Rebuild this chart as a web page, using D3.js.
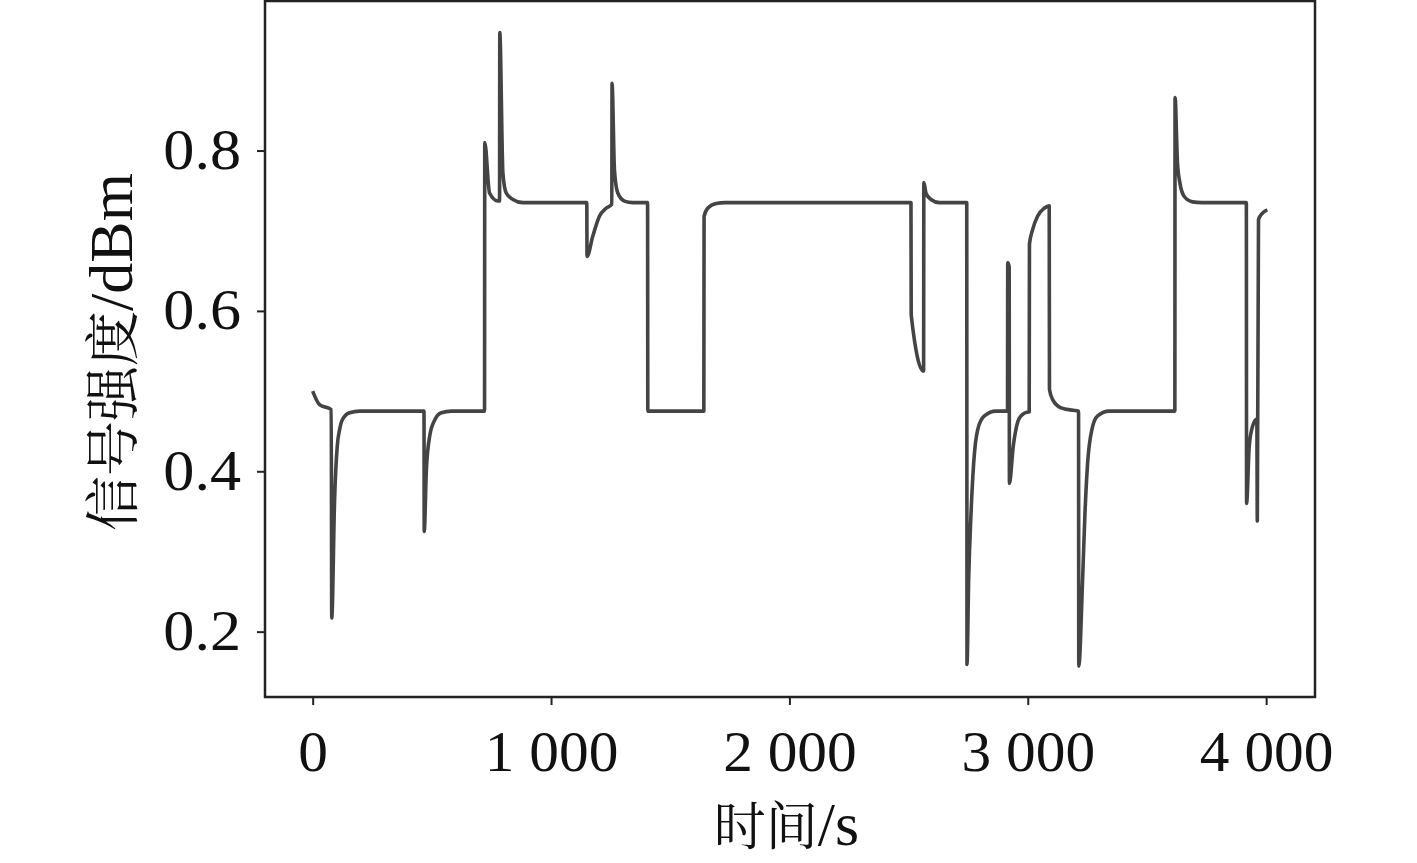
<!DOCTYPE html>
<html>
<head>
<meta charset="utf-8">
<script src="https://cdn.jsdelivr.net/npm/d3@7/dist/d3.min.js"></script>
<style>
	body { margin: 0; background: #fff; }
	svg text { font-family: "Liberation Serif", "Noto Serif CJK SC", "Noto Sans CJK SC", serif; fill: #111; }
</style>
</head>
<body>
<div id="chart"></div>
<script>
(function(){
	'use strict';

	// time (s)
	var times = [
		0, 29, 78, 80, 92, 103, 113, 124, 155, 197,
		467, 468, 477, 491, 512, 540, 581,
		721, 722, 742, 777, 784, 785, 798, 812, 840, 882,
		1150, 1151, 1175, 1203, 1231, 1255, 1256, 1266, 1280, 1308, 1343,
		1405, 1406, 1641, 1642, 1657, 1693, 1730,
		2510, 2511, 2563, 2564, 2573, 2594, 2629,
		2744, 2745, 2752, 2762, 2773, 2790, 2818, 2867,
		2915, 2916, 2922, 2923, 2939, 2953, 2971, 3003,
		3006, 3007, 3020, 3041, 3069, 3090, 3091, 3105, 3140, 3190,
		3213, 3214, 3230, 3240, 3251, 3269, 3293, 3342,
		3617, 3618, 3628, 3638, 3656, 3691, 3730,
		3917, 3918, 3929, 3943, 3961, 3963, 3968, 3985, 4005
	];

	// signal strength (dBm), same order as times
	var strength = [
		0.500, 0.483, 0.477, 0.217, 0.365, 0.431, 0.452, 0.464, 0.473, 0.475,
		0.475, 0.325, 0.402, 0.444, 0.464, 0.473, 0.475,
		0.475, 0.810, 0.747, 0.737, 0.737, 0.947, 0.772, 0.747, 0.739, 0.735,
		0.735, 0.668, 0.693, 0.718, 0.728, 0.733, 0.884, 0.776, 0.747, 0.737, 0.735,
		0.735, 0.475, 0.475, 0.718, 0.728, 0.734, 0.735,
		0.735, 0.595, 0.525, 0.760, 0.747, 0.739, 0.735,
		0.735, 0.159, 0.265, 0.348, 0.410, 0.452, 0.469, 0.475,
		0.475, 0.660, 0.655, 0.385, 0.431, 0.456, 0.469, 0.474,
		0.474, 0.683, 0.701, 0.718, 0.728, 0.731, 0.502, 0.489, 0.479, 0.476,
		0.475, 0.157, 0.265, 0.348, 0.410, 0.452, 0.469, 0.475,
		0.475, 0.866, 0.785, 0.760, 0.743, 0.736, 0.735,
		0.735, 0.360, 0.431, 0.456, 0.465, 0.338, 0.714, 0.722, 0.726
	];

	var xTicks = [0, 1000, 2000, 3000, 4000];
	var yTicks = [0.2, 0.4, 0.6, 0.8];
	var xLabel = ["时间", "/s"];
	var yLabel = ["信号强度", "/dBm"];

	var width = 1417, height = 863;
	var margin = {top: 1, right: 102, bottom: 166, left: 265};
	var plotW = width - margin.left - margin.right;
	var plotH = height - margin.top - margin.bottom;

	var data = times.map(function(t, i){ return {t: t, v: strength[i]}; });

	var xScale = d3.scaleLinear().domain([-200, 4205]).range([0, plotW]);
	var yScale = d3.scaleLinear().domain([0.1185, 0.9865]).range([plotH, 0]);

	var fmt = d3.formatLocale({decimal: ".", thousands: " ", grouping: [3], currency: ["", ""]});

	var svg = d3.select("#chart").append("svg")
		.attr("width", width)
		.attr("height", height);

	var g = svg.append("g")
		.attr("transform", "translate(" + margin.left + "," + margin.top + ")");

	var xAxis = d3.axisBottom(xScale)
		.tickValues(xTicks)
		.tickSize(8)
		.tickPadding(26)
		.tickFormat(fmt.format(",d"));

	var yAxis = d3.axisLeft(yScale)
		.tickValues(yTicks)
		.tickSize(8)
		.tickPadding(16)
		.tickFormat(d3.format(".1f"));

	var gx = g.append("g")
		.attr("transform", "translate(0," + plotH + ")")
		.call(xAxis);
	var gy = g.append("g").call(yAxis);

	// the source figure's type is a little wider than ours
	function widen(sel, k){
		sel.each(function(){
			var w = this.getComputedTextLength();
			d3.select(this).attr("textLength", w * k).attr("lengthAdjust", "spacingAndGlyphs");
		});
	}

	gx.select(".domain").remove();
	gy.select(".domain").remove();
	[gx, gy].forEach(function(a){
		a.selectAll(".tick line").attr("stroke", "#222").attr("stroke-width", 2);
		a.selectAll(".tick text").style("font-size", "56px");
	});
	widen(gx.selectAll(".tick text"), 1.06);
	widen(gy.selectAll(".tick text"), 1.11);

	var line = d3.line()
		.x(function(d){ return xScale(d.t); })
		.y(function(d){ return yScale(d.v); })
		.curve(d3.curveMonotoneX);

	g.append("path")
		.datum(data)
		.attr("d", line)
		.attr("fill", "none")
		.attr("stroke", "#444")
		.attr("stroke-width", 3.6)
		.attr("stroke-linejoin", "round");

	// frame
	g.append("rect")
		.attr("x", 0).attr("y", 0)
		.attr("width", plotW).attr("height", plotH)
		.attr("fill", "none")
		.attr("stroke", "#222")
		.attr("stroke-width", 2.5);

	var xt = svg.append("text")
		.attr("x", margin.left + xScale(2000) - 3)
		.attr("y", 845)
		.attr("text-anchor", "middle");
	xt.append("tspan").style("font-size", "52px").text(xLabel[0]);
	xt.append("tspan").style("font-size", "62px").text(xLabel[1]);

	var yt = svg.append("text")
		.attr("transform", "translate(132,352) rotate(-90)")
		.attr("text-anchor", "middle");
	yt.append("tspan").style("font-size", "55px").text(yLabel[0]);
	yt.append("tspan").style("font-size", "62px").text(yLabel[1]);
})();
</script>
</body>
</html>
